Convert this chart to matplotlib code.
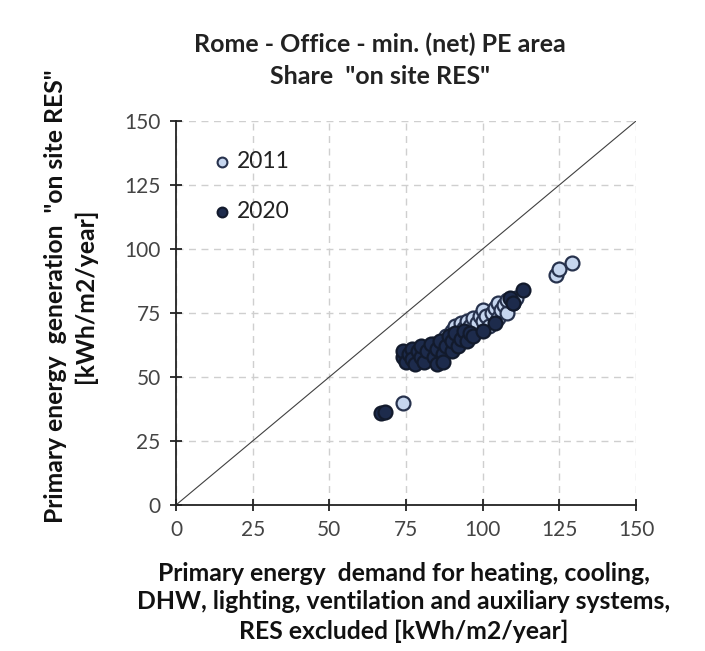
import numpy as np
import matplotlib
matplotlib.use('Agg')
import matplotlib.pyplot as plt

plt.rcParams['font.family'] = ['Lato', 'DejaVu Sans']

# ── data ─────────────────────────────────────────────────────────────────────
x_2011 = [74, 80, 84, 88, 90, 91, 92, 93, 94, 95, 96, 97, 98, 99, 100, 100,
          101, 102, 103, 104, 105, 105, 106, 107, 108, 108, 110, 111,
          124, 125, 129]
y_2011 = [40, 60, 63, 66, 68, 70, 67, 71, 69, 72, 70, 73, 71, 74, 72, 76,
          74, 70, 75, 77, 73, 79, 76, 78, 75, 80, 79, 81,
          90, 92, 94.5]

x_2020 = [67, 68, 74, 74, 75, 76, 77, 77, 78, 79, 80, 80, 81, 82, 83, 84,
          85, 85, 86, 87, 87, 88, 89, 90, 90, 91, 92, 93, 94, 95, 96, 97,
          100, 104, 109, 110, 113]
y_2020 = [36, 36.5, 58, 60, 56, 59, 61, 57, 55, 60, 58, 62, 56, 60, 63, 58,
          55, 61, 64, 59, 56, 62, 66, 60, 64, 67, 62, 65, 68, 64, 67, 66,
          68, 71, 81, 79, 84]

ticks = [0, 25, 50, 75, 100, 125, 150]

# ── plot ─────────────────────────────────────────────────────────────────────
fig = plt.figure(figsize=(7.05, 6.51), dpi=100)
ax = fig.add_axes([0.2496, 0.2243, 0.6525, 0.5898])

ax.plot([0, 150], [0, 150], color='#404040', lw=0.8, zorder=2)

ax.scatter(x_2011, y_2011, s=100, facecolor='#c6d6ef', edgecolor='#27324d',
           linewidth=1.6, zorder=3)
ax.scatter(x_2020, y_2020, s=100, facecolor='#1d2b4c', edgecolor='#121a2c',
           linewidth=1.6, zorder=4)

ax.set_xlim(0, 150)
ax.set_ylim(0, 150)
ax.set_xticks(ticks)
ax.set_yticks(ticks)
ax.grid(True, color='#cfcfcf', linestyle=(0, (5, 4)), lw=1.0, zorder=0)
ax.set_axisbelow(True)

for s in ['top', 'right']:
    ax.spines[s].set_visible(False)
for s in ['left', 'bottom']:
    ax.spines[s].set_color('#222222')
    ax.spines[s].set_linewidth(1.3)
ax.tick_params(direction='inout', length=8, width=1.3, colors='#222222',
               labelcolor='#444444', labelsize=15, pad=7)

# legend (manual, no frame)
ax.scatter([15], [134], s=50, facecolor='#c6d6ef', edgecolor='#27324d',
           linewidth=1.5, zorder=5)
ax.scatter([15], [114.5], s=50, facecolor='#1d2b4c', edgecolor='#121a2c',
           linewidth=1.5, zorder=5)
ax.text(20, 134, '2011', fontsize=16.5, color='#222222', va='center')
ax.text(20, 114.5, '2020', fontsize=16.5, color='#222222', va='center')

fig.text(0.539, 0.907, 'Rome - Office - min. (net) PE area\nShare  "on site RES"',
         ha='center', va='center', fontsize=18, fontweight='bold',
         color='#222222', linespacing=1.45)

fig.text(0.1, 0.545, 'Primary energy  generation  "on site RES"\n[kWh/m2/year]',
         ha='center', va='center', rotation=90, fontsize=17.8,
         fontweight='bold', color='#111111', linespacing=1.3)

fig.text(0.573, 0.075,
         'Primary energy  demand for heating, cooling,\n'
         'DHW, lighting, ventilation and auxiliary systems,\n'
         'RES excluded [kWh/m2/year]',
         ha='center', va='center', fontsize=17.8, fontweight='bold',
         color='#111111', linespacing=1.3)

fig.savefig('out.png', dpi=100)
